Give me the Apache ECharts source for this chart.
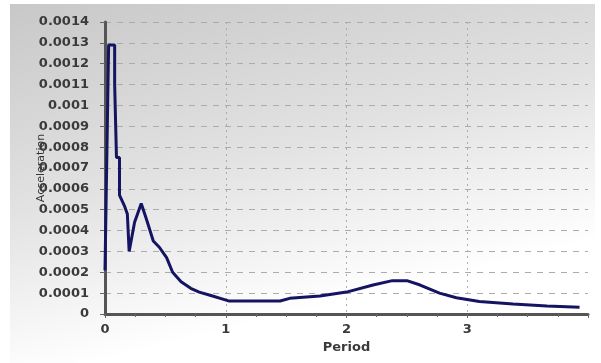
<!DOCTYPE html>
<html>
<head>
<meta charset="utf-8">
<script src="https://cdn.jsdelivr.net/npm/echarts@6/dist/echarts.min.js"></script>
<style>html,body{margin:0;padding:0;background:#fff}#c{width:601px;height:363px}</style>
</head>
<body>
<div id="c"></div>
<script>
// Data
var periods = [0.0, 0.01, 0.01, 0.02, 0.02, 0.03, 0.03, 0.08, 0.08, 0.095, 0.095, 0.12, 0.12, 0.16, 0.185, 0.2, 0.215, 0.245, 0.3, 0.34, 0.4, 0.45, 0.51, 0.56, 0.63, 0.71, 0.78, 0.87, 1.03, 1.45, 1.53, 1.78, 2.0, 2.22, 2.38, 2.5, 2.61, 2.77, 2.91, 3.1, 3.38, 3.66, 3.93];
var accelerations = [0.00021, 0.00021, 0.00057, 0.00057, 0.00093, 0.00093, 0.00129, 0.00129, 0.0011, 0.0011, 0.00075, 0.00075, 0.00057, 0.00052, 0.00048, 0.0003, 0.0003, 0.00044, 0.00053, 0.00046, 0.00035, 0.00032, 0.00027, 0.0002, 0.000155, 0.000123, 0.000105, 0.00009, 0.000062, 0.000062, 0.000075, 0.000086, 0.000105, 0.000139, 0.00016, 0.00016, 0.000139, 0.0001, 0.000078, 0.00006, 0.000048, 0.000038, 0.000032];
var xAxisName = 'Period';
var yAxisName = 'Acceleration';

var points = periods.map(function (p, i) { return [p, accelerations[i]]; });

var chart = echarts.init(document.getElementById('c'));
chart.setOption({
  animation: false,
  graphic: [{
    type: 'rect', z: -10, silent: true,
    shape: { x: 10, y: 4, width: 585, height: 359 },
    style: {
      fill: new echarts.graphic.LinearGradient(0, 0, 0.15, 1, [
        { offset: 0, color: '#c8c8c8' },
        { offset: 0.55, color: '#e2e2e2' },
        { offset: 1, color: '#ffffff' }
      ])
    }
  }],
  grid: { left: 105, right: 13, top: 22, bottom: 49 },
  xAxis: {
    type: 'value', min: 0, max: 4, interval: 1,
    name: xAxisName, nameLocation: 'middle', nameGap: 24,
    nameTextStyle: { fontFamily: 'DejaVu Sans', fontSize: 13, fontWeight: 'bold', color: '#3a3a3a' },
    axisLine: { show: true, onZero: false, lineStyle: { color: '#555', width: 3 } },
    axisTick: { show: true, length: 4, lineStyle: { color: '#666' } },
    minorTick: { show: true, splitNumber: 4, length: 3, lineStyle: { color: '#666' } },
    axisLabel: { fontFamily: 'DejaVu Sans', fontSize: 13, fontWeight: 'bold', color: '#3a3a3a', margin: 9, showMaxLabel: false },
    splitLine: { show: true, showMinLine: false, showMaxLine: false, lineStyle: { color: '#acacac', type: [2, 4], width: 1 } }
  },
  yAxis: {
    type: 'value', min: 0, max: 0.0014, interval: 0.0001, offset: 2,
    name: yAxisName, nameLocation: 'middle', nameGap: 56, nameRotate: 90, nameMoveOverlap: false,
    nameTextStyle: { fontFamily: 'DejaVu Sans', fontSize: 11, color: '#333' },
    axisLine: { show: true, lineStyle: { color: '#555', width: 3 } },
    axisTick: { show: true, length: 5, lineStyle: { color: '#666' } },
    axisLabel: {
      fontFamily: 'DejaVu Sans', fontSize: 13, fontWeight: 'bold', color: '#3a3a3a', margin: 14,
      formatter: function (v) { return String(+v.toFixed(4)); }
    },
    splitLine: { show: true, showMinLine: false, lineStyle: { color: '#acacac', type: [6, 6], width: 1 } }
  },
  series: [{
    type: 'line', data: points, showSymbol: false, smooth: false,
    lineStyle: { color: '#141462', width: 3 }, itemStyle: { color: '#141462' }
  }]
});
</script>
</body>
</html>
